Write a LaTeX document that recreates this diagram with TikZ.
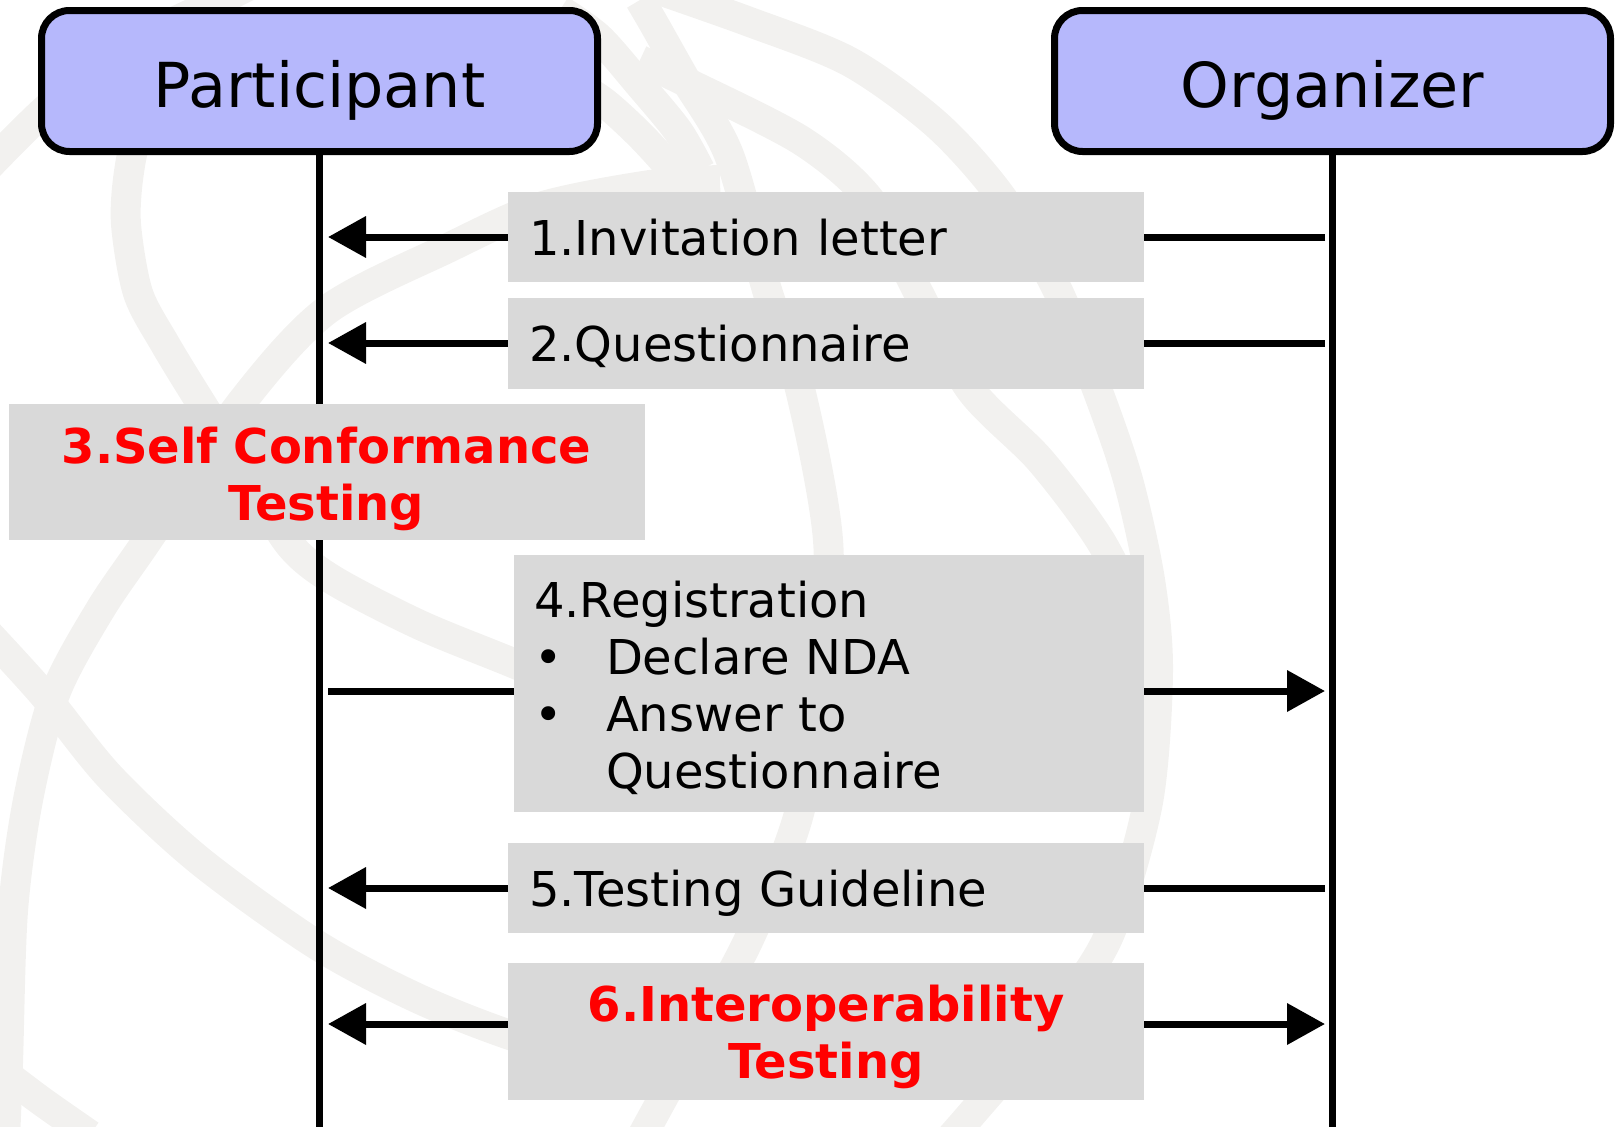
\documentclass[tikz,border=0pt]{standalone}
\usepackage{fontspec}
\setmainfont{DejaVu Sans}
\usetikzlibrary{arrows.meta}
\definecolor{headblue}{RGB}{182,184,252}
\definecolor{boxgray}{RGB}{217,217,217}
\definecolor{globegray}{RGB}{242,241,239}

\begin{document}
\begin{tikzpicture}[x=1pt, y=-1pt,
  head/.style={draw, line width=7pt, rounded corners=28pt, fill=headblue,
    minimum width=556pt, minimum height=141pt, text height=52pt, text depth=0pt,
    font=\fontsize{62}{74}\selectfont},
  msgbox/.style={fill=boxgray, inner xsep=21pt, inner ysep=0pt, text width=594pt,
    minimum width=636pt, align=left, text height=37pt, text depth=0pt,
    font=\fontsize{48}{57}\selectfont},
  hotbox/.style={msgbox, align=center, text=red, font=\fontsize{48}{57}\selectfont\bfseries},
  lifeline/.style={line width=7pt},
  msg/.style={line width=7pt, -{Triangle[length=38pt, width=40pt]}},
  wire/.style={line width=7pt},
  globe/.style={globegray, line width=30pt}]
  \useasboundingbox (0,0) rectangle (1617,1127);

  % faint globe behind everything
  \begin{scope}
    \clip (0,0) rectangle (1617,1127);
    \draw[globe] plot[smooth] coordinates {(630,-20) (747,21) (850,62) (936,124)
      (1000,195) (1055,285) (1097,389) (1128,480) (1150,580) (1158,671)
      (1148,802) (1110,933) (1060,1010) (975,1110) (940,1150)};
    \draw[globe] plot[smooth] coordinates {(5,1140) (8,1063) (13,911) (28,800)
      (55,694) (100,610) (147,541) (241,403) (327,310) (448,248) (540,207)
      (650,185) (720,180)};
    \draw[globe] plot[smooth] coordinates {(-20,625) (43,694) (110,777) (200,861)
      (317,945) (417,998) (513,1036) (620,1066) (720,1085)};
    \draw[globe] plot[smooth] coordinates {(180,60) (140,130) (129,172) (126,224)
      (138,293) (165,344) (201,403) (250,480) (290,545) (333,580) (420,625)
      (513,663) (600,700)};
    \draw[globe] plot[smooth] coordinates {(640,0) (654,24) (685,79) (729,155)
      (767,290) (800,389) (828,540) (822,680) (798,817) (750,937) (700,1030)
      (640,1140)};
    \draw[globe] plot[smooth] coordinates {(640,60) (688,83) (802,141) (870,200)
      (917,290) (970,389) (1040,460) (1100,540) (1140,620)};
    \draw[globe] plot[smooth] coordinates {(560,10) (599,38) (640,85) (678,131)
      (700,170)};
    \draw[globe] plot[smooth] coordinates {(570,80) (605,103) (640,135) (671,169)
      (690,195)};
    \draw[globe] plot[smooth] coordinates {(-20,175) (45,110) (120,50) (220,0)
      (260,-20)};
    \draw[globe] plot[smooth] coordinates {(-10,1062) (40,1100) (90,1135)};
  \end{scope}

  % the two parties
  \node[head] (part) at (319.5,81) {Participant};
  \node[head] (org) at (1332.5,81) {Organizer};
  \coordinate (pend) at (319.5,1127);
  \coordinate (oend) at (1332.5,1127);
  \draw[lifeline] (part) -- (pend);
  \draw[lifeline] (org) -- (oend);

  % messages
  \node[msgbox, minimum height=90pt] (invite) at (826,237) {1.Invitation letter};
  \node[msgbox, minimum height=91pt] (quest) at (826,343) {2.Questionnaire};
  \node[hotbox, minimum height=136pt, minimum width=635pt, text depth=55pt]
    (selftest) at (326.5,472) {3.Self Conformance\\Testing};
  \node[msgbox, minimum height=257pt, minimum width=630pt, text width=590pt,
    inner xsep=20pt, text depth=170pt] (regist) at (829,683.5)
    {4.Registration\\
     \makebox[72pt][l]{•}Declare NDA\\
     \makebox[72pt][l]{•}Answer to\\
     \hspace*{72pt}Questionnaire};
  \node[msgbox, minimum height=90pt] (guide) at (826,888) {5.Testing Guideline};
  \node[hotbox, minimum height=137pt, text depth=57pt] (interop) at (826,1031)
    {6.Interoperability\\Testing};

  \coordinate (p1) at (328,237);
  \coordinate (o1) at (1325,237);
  \coordinate (p2) at (328,343);
  \coordinate (o2) at (1325,343);
  \coordinate (p4) at (328,691);
  \coordinate (o4) at (1325,691);
  \coordinate (p5) at (328,888);
  \coordinate (o5) at (1325,888);
  \coordinate (p6) at (328,1024);
  \coordinate (o6) at (1325,1024);

  \draw[msg] (invite) -- (p1);
  \draw[wire] (o1) -- (invite);
  \draw[msg] (quest) -- (p2);
  \draw[wire] (o2) -- (quest);
  \draw[wire] (p4) -- (regist.west |- p4);
  \draw[msg] (regist.east |- o4) -- (o4);
  \draw[msg] (guide) -- (p5);
  \draw[wire] (o5) -- (guide);
  \draw[msg] (interop.west |- p6) -- (p6);
  \draw[msg] (interop.east |- o6) -- (o6);
\end{tikzpicture}
\end{document}
